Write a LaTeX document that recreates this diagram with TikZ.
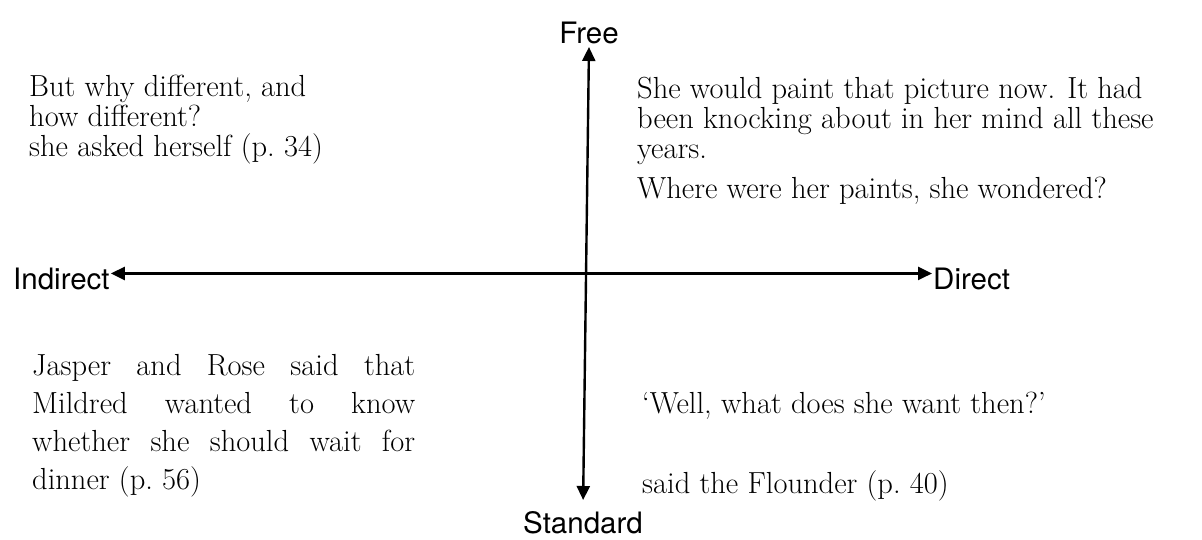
\documentclass[tikz,border=0pt]{standalone}
\usepackage{fontspec}
\newfontfamily\axisfont{TeX Gyre Heros}
\usetikzlibrary{arrows.meta}

\begin{document}
\begin{tikzpicture}[x=1pt,y=-1pt,
  axislabel/.style={font=\axisfont\fontsize{29.5}{30}\selectfont, inner sep=1pt},
  quote/.style={font=\fontsize{30.5}{30}\selectfont, inner sep=0pt, anchor=base west, align=left},
  axis/.style={line width=2.4pt, {Triangle[length=14pt,width=13pt]}-{Triangle[length=14pt,width=13pt]}}]
\useasboundingbox (0,0) rectangle (1202,540);
\node[axislabel, anchor=south] (free) at (589,45) {Free};
\node[axislabel, anchor=north] (standard) at (583,510) {Standard};
\node[axislabel, anchor=base west] (indirect) at (12,289) {Indirect};
\node[axislabel, anchor=base west] (direct) at (932,289) {Direct};
\draw[axis] ([yshift=5pt]indirect.east) -- ([yshift=5pt]direct.west);
\draw[axis, shorten <=2pt, shorten >=10pt] (free.south) -- (standard.north);
\node[quote] (herself) at (29,157) {But why different, and\\how different?\\she asked herself (p.~34)};
\node[quote] (paint) at (637,199) {She would paint that picture now. It had\\been knocking about in her mind all these\\years.\\[10pt]Where were her paints, she wondered?};
\node[quote, font=\fontsize{30.5}{38}\selectfont] (dinner) at (32,489) {\makebox[383pt][s]{Jasper and Rose said that}\\
  \makebox[383pt][s]{Mildred wanted to know}\\
  \makebox[383pt][s]{whether she should wait for}\\
  dinner (p.~56)};
\node[quote] (flounder) at (642,493) {‘Well, what does she want then?’\\[50pt]said the Flounder (p.~40)};
\end{tikzpicture}
\end{document}
